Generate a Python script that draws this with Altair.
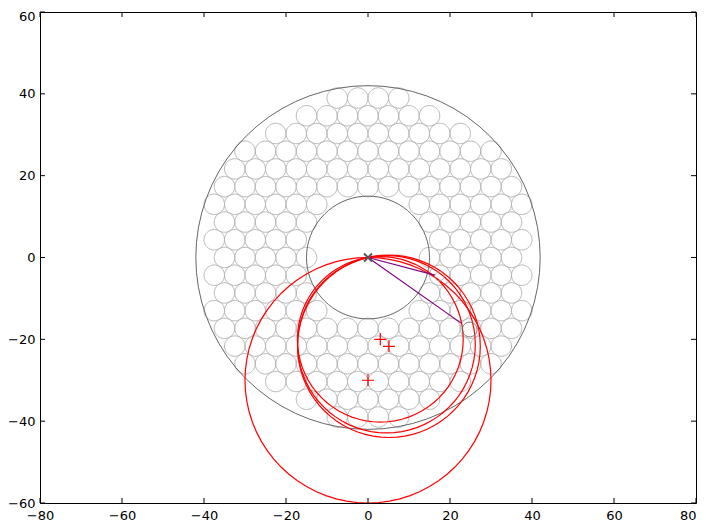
import numpy as np
import pandas as pd
import altair as alt

# ---- data ----
X_TICKS = [-80, -60, -40, -20, 0, 20, 40, 60, 80]
Y_TICKS = [-60, -40, -20, 0, 20, 40, 60]

# hexagonal grid of small circles (upper half; lower half is its mirror)
GRID_RADIUS = 2.5
ROW_STEP = 4.33
GRID_ROWS_K = [0, 1, 2, 3, 4, 5, 6, 7, 8, 9]
GRID_ROWS_X = [
    [-35, -30, -25, -20, -15, 15, 20, 25, 30, 35],
    [-37.5, -32.5, -27.5, -22.5, -17.5, 17.5, 22.5, 27.5, 32.5, 37.5],
    [-35, -30, -25, -20, -15, 15, 20, 25, 30, 35],
    [-37.5, -32.5, -27.5, -22.5, -17.5, -12.5, 12.5, 17.5, 22.5, 27.5, 32.5, 37.5],
    [-35, -30, -25, -20, -15, -10, -5, 0, 5, 10, 15, 20, 25, 30, 35],
    [-32.5, -27.5, -22.5, -17.5, -12.5, -7.5, -2.5, 2.5, 7.5, 12.5, 17.5, 22.5, 27.5, 32.5],
    [-30, -25, -20, -15, -10, -5, 0, 5, 10, 15, 20, 25, 30],
    [-22.5, -17.5, -12.5, -7.5, -2.5, 2.5, 7.5, 12.5, 17.5, 22.5],
    [-15, -10, -5, 0, 5, 10, 15],
    [-7.5, -2.5, 2.5, 7.5],
]

RING_R = [42, 15]

RED_CX = [0, 3.0, 4.5, 5.1]
RED_CY = [-30, -20.0, -21.2, -21.7]

PLUS_X = [0, 3.0, 5.1]
PLUS_Y = [-30, -20.0, -21.7]

TARGET_X = [17.4, 24.8]
TARGET_Y = [-4.6, -17.6]
TARGET_R = [1.1, 1.8]
TARGET_COLOR = ["#aaaaaa", "#666666"]

LINE_END_X = [16.3, 22.8]
LINE_END_Y = [-4.3, -16.1]

W, H = 656, 491
N_SEG = 72


def outline(prefix, cxs, cys, rs):
    rows = []
    t = np.linspace(0, 2 * np.pi, N_SEG + 1)
    for i, (cx, cy, r) in enumerate(zip(cxs, cys, rs)):
        for j, a in enumerate(t):
            rows.append({"id": f"{prefix}{i}", "o": j,
                         "x": cx + r * np.cos(a), "y": cy + r * np.sin(a)})
    return pd.DataFrame(rows)


gx, gy = [], []
for k, xs in zip(GRID_ROWS_K, GRID_ROWS_X):
    for sgn in ([1] if k == 0 else [1, -1]):
        for x in xs:
            gx.append(x)
            gy.append(sgn * k * ROW_STEP)

grid_df = outline("g", gx, gy, [GRID_RADIUS] * len(gx))
ring_df = outline("r", [0, 0], [0, 0], RING_R)
red_r = [float(np.hypot(a, b)) for a, b in zip(RED_CX, RED_CY)]
red_df = outline("c", RED_CX, RED_CY, red_r)
tgt_df = pd.concat([outline(f"t{i}_", [x], [y], [r]).assign(col=c)
                    for i, (x, y, r, c) in enumerate(zip(TARGET_X, TARGET_Y, TARGET_R, TARGET_COLOR))])

xs = alt.Scale(domain=[-80, 80], nice=False, zero=False)
ys = alt.Scale(domain=[-60, 60], nice=False, zero=False)

xaxis = alt.Axis(values=X_TICKS, ticks=False, domain=False, grid=False, title=None,
                 labelFont="DejaVu Sans", labelFontSize=13, labelColor="black",
                 labelPadding=6, labelFlush=False, labelOverlap=False,
                 labelAlign={"condition": {"test": "datum.value >= 80", "value": "right"},
                             "value": "center"})
yaxis = alt.Axis(values=Y_TICKS, ticks=False, domain=False, grid=False, title=None,
                 labelFont="DejaVu Sans", labelFontSize=13, labelColor="black",
                 labelPadding=5, labelFlush=False, labelOverlap=False,
                 labelOffset={"condition": {"test": "datum.value >= 60", "value": 4},
                              "value": 0})


def circles(df, color, width=1.0):
    return alt.Chart(df).mark_line(color=color, strokeWidth=width, clip=True).encode(
        x=alt.X("x:Q", scale=xs, axis=xaxis),
        y=alt.Y("y:Q", scale=ys, axis=yaxis),
        detail="id:N", order="o:Q")


grid = circles(grid_df, "#b4b4b4", 1.0)
rings = circles(ring_df, "#666666", 1.0)
reds = circles(red_df, "#ff0000", 1.2)
tgts = alt.Chart(tgt_df).mark_line(strokeWidth=1.0).encode(
    x=alt.X("x:Q", scale=xs), y=alt.Y("y:Q", scale=ys),
    detail="id:N", order="o:Q", color=alt.Color("col:N", scale=None))

lines_df = pd.DataFrame({"x": [0] * len(LINE_END_X), "y": [0] * len(LINE_END_Y),
                         "x2": LINE_END_X, "y2": LINE_END_Y})
purple = alt.Chart(lines_df).mark_rule(color="#800080", strokeWidth=1.2).encode(
    x=alt.X("x:Q", scale=xs), y=alt.Y("y:Q", scale=ys), x2="x2:Q", y2="y2:Q")

plus = alt.Chart(pd.DataFrame({"x": PLUS_X, "y": PLUS_Y})).mark_point(
    shape="M-1,0L1,0M0,-1L0,1", filled=False, color="#ff0000", strokeWidth=1.2,
    size=144, opacity=1).encode(x=alt.X("x:Q", scale=xs), y=alt.Y("y:Q", scale=ys))

cross = alt.Chart(pd.DataFrame({"x": [0], "y": [0]})).mark_point(
    shape="M-1,-1L1,1M-1,1L1,-1", filled=False, color="#555555", strokeWidth=2,
    size=64, opacity=1).encode(x=alt.X("x:Q", scale=xs), y=alt.Y("y:Q", scale=ys))

# inward ticks on all four sides
xt = pd.DataFrame({"v": X_TICKS})
yt = pd.DataFrame({"v": Y_TICKS})
TL = 5
tick_b = alt.Chart(xt).mark_rule(color="black").encode(
    x=alt.X("v:Q", scale=xs), y=alt.value(H), y2=alt.value(H - TL))
tick_t = alt.Chart(xt).mark_rule(color="black").encode(
    x=alt.X("v:Q", scale=xs), y=alt.value(0), y2=alt.value(TL))
tick_l = alt.Chart(yt).mark_rule(color="black").encode(
    y=alt.Y("v:Q", scale=ys), x=alt.value(0), x2=alt.value(TL))
tick_r = alt.Chart(yt).mark_rule(color="black").encode(
    y=alt.Y("v:Q", scale=ys), x=alt.value(W), x2=alt.value(W - TL))

chart = alt.layer(grid, rings, reds, tgts, purple, plus, cross,
                  tick_b, tick_t, tick_l, tick_r).properties(
    width=W, height=H,
    padding={"left": 32, "top": 4, "right": 2, "bottom": 18},
    autosize=alt.AutoSizeParams(type="none"),
    background="white",
).configure_view(stroke="black", strokeWidth=1)

chart.save("out.html", embed_options={"renderer": "svg", "actions": False})
